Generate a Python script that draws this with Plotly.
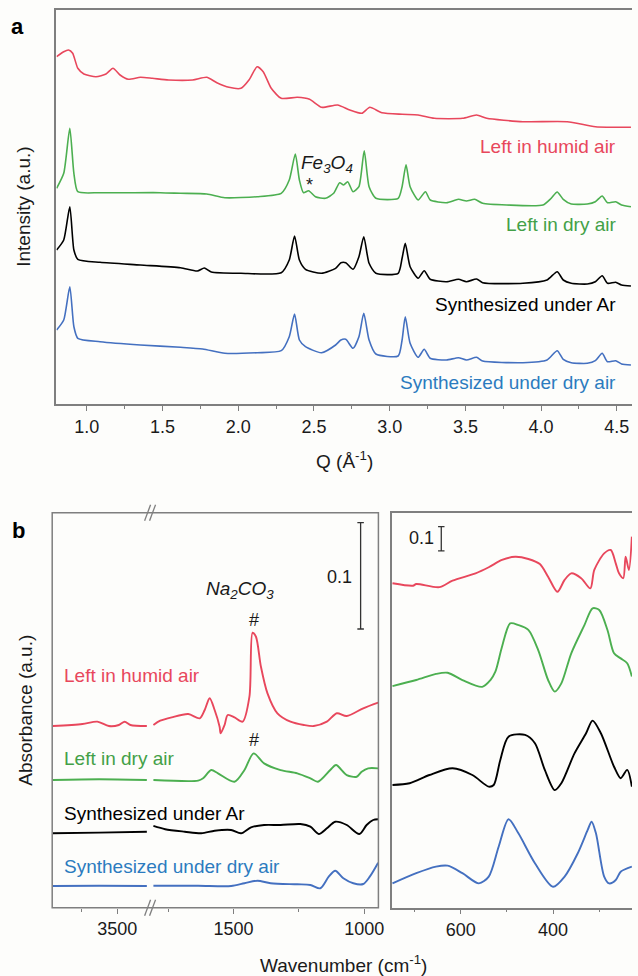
import plotly.graph_objects as go

W, H = 638, 976

# ---------------- Panel a : diffraction patterns ----------------
q_humid = [0.801, 0.848, 0.880, 0.907, 0.941, 0.981, 1.061, 1.127, 1.173, 1.220, 1.274, 1.354, 1.433, 1.540,
           1.699, 1.792, 1.859, 1.939, 2.018, 2.071, 2.125, 2.165, 2.218, 2.284, 2.390, 2.471, 2.550, 2.656,
           2.737, 2.816, 2.869, 2.949, 3.082, 3.188, 3.295, 3.481, 3.574, 3.641, 3.880, 4.172, 4.359, 4.593]
i_humid = [347.3, 352.3, 354, 350.7, 335.7, 330, 327.3, 330, 335.7, 329, 324.7, 326.7, 325.7, 324,
           324, 326.7, 321.3, 316.7, 315.7, 324, 337.3, 332.3, 315.7, 305.7, 306.7, 304.7, 296.7, 299,
           294, 290.7, 296.7, 291.3, 289.7, 289, 285.7, 285.7, 289, 285.7, 282.3, 282.3, 277.3, 276.7]

q_dry = [0.801, 0.848, 0.888, 0.915, 0.941, 1.088, 1.486, 1.619, 1.792, 1.912, 2.125, 2.284, 2.337, 2.377,
         2.404, 2.431, 2.465, 2.510, 2.576, 2.630, 2.670, 2.696, 2.723, 2.758, 2.797, 2.832, 2.864, 2.909,
         3.056, 3.082, 3.108, 3.135, 3.188, 3.236, 3.268, 3.375, 3.454, 3.507, 3.561, 3.614, 3.773, 4.012,
         4.066, 4.106, 4.146, 4.199, 4.305, 4.358, 4.403, 4.438, 4.492, 4.531, 4.593]
i_dry = [215.7, 230.7, 275.7, 230.7, 212.3, 211.3, 211.3, 210.7, 210, 206.3, 207.3, 210.7, 224, 250,
         224, 211.3, 213.3, 207.3, 205.7, 210.7, 221.3, 219, 222.3, 212.3, 217.3, 253.3, 217.3, 205.7,
         205.7, 217.3, 239.3, 217.3, 204, 212.3, 204, 201.3, 204.7, 203, 204.7, 200.7, 199, 199,
         205.7, 212, 204.7, 200, 200, 202.3, 208, 201.3, 202.3, 199, 197.3]

q_ar = [0.801, 0.848, 0.888, 0.915, 0.941, 1.088, 1.354, 1.619, 1.730, 1.776, 1.822, 2.018, 2.284, 2.337,
        2.372, 2.404, 2.444, 2.550, 2.643, 2.678, 2.710, 2.758, 2.797, 2.829, 2.864, 2.909, 3.056, 3.082,
        3.103, 3.135, 3.188, 3.228, 3.268, 3.375, 3.454, 3.507, 3.574, 3.614, 3.880, 4.039, 4.106, 4.146,
        4.199, 4.305, 4.358, 4.403, 4.438, 4.492, 4.531, 4.593]
i_ar = [154, 164, 197.3, 154, 144.7, 141.7, 139, 136.3, 133, 136, 132, 130.7, 131.3, 144,
        168, 144, 134.7, 130.7, 135.7, 141.3, 141.3, 134.7, 147.3, 167.3, 140.7, 130.7, 130.7, 145.7,
        160.7, 137.3, 125.7, 133.3, 124.7, 122.3, 124.7, 122.3, 125, 121.3, 120.7, 124, 132.3, 124,
        120.7, 120, 122.3, 128.3, 120.7, 121.7, 119, 118]

q_synair = [0.801, 0.848, 0.888, 0.915, 0.941, 1.088, 1.354, 1.619, 1.765, 1.912, 2.125, 2.284, 2.337, 2.372,
            2.404, 2.444, 2.550, 2.643, 2.678, 2.710, 2.758, 2.797, 2.829, 2.864, 2.909, 3.056, 3.082, 3.103,
            3.135, 3.188, 3.228, 3.268, 3.375, 3.454, 3.507, 3.574, 3.614, 3.880, 4.039, 4.106, 4.146, 4.199,
            4.305, 4.358, 4.403, 4.438, 4.492, 4.531, 4.593]
i_synair = [74, 84, 117.3, 77.3, 65.7, 62.3, 59, 56.7, 55, 50.7, 51.3, 53.3, 67.3, 90,
            64, 57.3, 51.3, 59, 64, 64.7, 55.7, 67.3, 90.7, 64, 50, 48, 64, 87.3,
            60.7, 46.7, 54.7, 45.7, 44, 46.3, 44, 46.7, 43, 41.3, 44, 53.3, 44.7, 41.3,
            40.7, 43.3, 50.7, 42.3, 43.3, 40, 39]

# ---------------- Panel b : IR spectra (mid-IR, broken axis) ----------------
wn_humid = [3951, 3743, 3639, 3558, 3488, 3447, 3407, 3292,
            1806, 1780, 1736, 1673, 1629, 1610, 1591, 1572, 1553, 1549, 1534, 1522, 1496, 1465, 1439, 1427,
            1414, 1395, 1370, 1332, 1282, 1231, 1193, 1143, 1105, 1067, 1004, 947]
a_humid = [0.1709, 0.1728, 0.1750, 0.1709, 0.1719, 0.1750, 0.1719, 0.1709,
           0.1719, 0.1759, 0.1791, 0.1822, 0.1782, 0.1860, 0.1970, 0.1860, 0.1703, 0.1641, 0.1719, 0.1813,
           0.1791, 0.1750, 0.1985, 0.2587, 0.2549, 0.2267, 0.2017, 0.1829, 0.1750, 0.1719, 0.1709, 0.1750,
           0.1829, 0.1803, 0.1876, 0.1929]

wn_dry = [3951, 3627, 3292,
          1806, 1635, 1616, 1585, 1559, 1496, 1458, 1423, 1383, 1320, 1256, 1206, 1177, 1130, 1108, 1067,
          1029, 1010, 985, 947]
a_dry = [0.1201, 0.1208, 0.1201,
         0.1201, 0.1195, 0.1217, 0.1295, 0.1264, 0.1185, 0.1295, 0.1452, 0.1358, 0.1295, 0.1264, 0.1217,
         0.1185, 0.1295, 0.1342, 0.1248, 0.1232, 0.1279, 0.1311, 0.1311]

wn_ar = [3951, 3627, 3292,
         1806, 1761, 1686, 1623, 1572, 1509, 1471, 1433, 1383, 1320, 1244, 1206, 1174, 1143, 1111, 1067,
         1019, 991, 966, 947]
a_ar = [0.0700, 0.0706, 0.0715,
        0.0769, 0.0738, 0.0715, 0.0700, 0.0724, 0.0731, 0.0700, 0.0756, 0.0778, 0.0778, 0.0787, 0.0762,
        0.0693, 0.0747, 0.0809, 0.0778, 0.0693, 0.0778, 0.0825, 0.0832]

wn_synair = [3951, 3627, 3292,
             1806, 1635, 1509, 1458, 1408, 1358, 1256, 1206, 1168, 1136, 1111, 1080, 1042, 1004, 979, 947]
a_synair = [0.0204, 0.0207, 0.0204,
            0.0207, 0.0207, 0.0204, 0.0230, 0.0254, 0.0230, 0.0220, 0.0214, 0.0183, 0.0292, 0.0348, 0.0277,
            0.0230, 0.0223, 0.0292, 0.0423]

# ---------------- Panel b : far-IR spectra ----------------
fwn_humid = [747.9, 703.5, 696.4, 646.5, 617.8, 567.9, 539.4, 510.6, 482.1, 453.6, 428.6, 410.8, 390.6,
             375, 360.6, 339.2, 319.3, 310.7, 289.3, 274.9, 264.2, 257.1, 247.9, 242.8, 235.7, 229.3]
fa_humid = [1.335, 1.325, 1.332, 1.319, 1.346, 1.376, 1.401, 1.431, 1.444, 1.435, 1.414, 1.362, 1.300,
            1.349, 1.376, 1.356, 1.314, 1.390, 1.458, 1.472, 1.417, 1.376, 1.356, 1.444, 1.390, 1.527]

fwn_dry = [747.9, 696.4, 653.6, 628.5, 596.4, 553.5, 535.7, 525, 510.6, 492.9, 475.1, 453.6, 432.2,
           410.8, 396.4, 382.1, 360.6, 332.1, 314.4, 300, 282.2, 267.9, 253.5, 239.4, 229.3]
fa_dry = [0.912, 0.937, 0.962, 0.967, 0.937, 0.909, 0.937, 0.971, 1.074, 1.170, 1.163, 1.143, 1.060,
          0.937, 0.889, 0.923, 1.047, 1.163, 1.232, 1.225, 1.143, 1.047, 1.026, 1.006, 0.951]

fwn_ar = [747.9, 710.8, 667.9, 617.8, 574.9, 539.4, 528.6, 514.3, 496.5, 460.7, 439.3, 417.9, 396.4,
          382.1, 353.6, 328.5, 314.4, 296.4, 267.9, 253.5, 239.4, 229.3]
fa_ar = [0.505, 0.512, 0.546, 0.574, 0.546, 0.498, 0.505, 0.608, 0.704, 0.711, 0.677, 0.567, 0.484,
         0.512, 0.635, 0.718, 0.770, 0.718, 0.580, 0.533, 0.567, 0.498]

fwn_synair = [747.9, 696.4, 653.6, 628.5, 596.4, 560.8, 539.4, 517.9, 496.5, 475.1, 439.3, 400.1, 375,
              346.5, 325, 316.5, 307.1, 289.3, 278.6, 264.2, 253.5, 229.3]
fa_synair = [0.100, 0.142, 0.169, 0.173, 0.142, 0.100, 0.128, 0.251, 0.364, 0.306, 0.183, 0.086, 0.128,
             0.224, 0.320, 0.354, 0.306, 0.128, 0.100, 0.114, 0.148, 0.169]

labels = ["Left in humid air", "Left in dry air", "Synthesized under Ar", "Synthesized under dry air"]
line_colors = ["#E8475C", "#4CAF50", "#000000", "#4470C0"]
text_colors = ["#E8475C", "#43A047", "#000000", "#2B7BBF"]

# label anchor values (data units)
lab_a_y = [257.3, 179, 100, 21.3]
lab_b_y = [0.218, 0.140, 0.0882, 0.0386]

FONT = "Arial, Liberation Sans, sans-serif"
AXC = "#7f7f7f"


def px(x):
    return x / W


def py(y):
    return 1 - y / H


fig = go.Figure()

# panel a traces
for q, i, c in zip([q_humid, q_dry, q_ar, q_synair], [i_humid, i_dry, i_ar, i_synair], line_colors):
    fig.add_trace(go.Scatter(x=q, y=i, mode="lines", line=dict(color=c, width=1.6, shape="spline", smoothing=0.6),
                             xaxis="x", yaxis="y", showlegend=False, hoverinfo="skip"))

# panel b mid-IR traces (split at the axis break)
for wn, a, c in zip([wn_humid, wn_dry, wn_ar, wn_synair], [a_humid, a_dry, a_ar, a_synair], line_colors):
    hi = [(w, v) for w, v in zip(wn, a) if w > 3000]
    lo = [(w, v) for w, v in zip(wn, a) if w <= 3000]
    fig.add_trace(go.Scatter(x=[p[0] for p in hi], y=[p[1] for p in hi], mode="lines",
                             line=dict(color=c, width=1.9, shape="spline", smoothing=0.8), xaxis="x2", yaxis="y2",
                             showlegend=False, hoverinfo="skip"))
    fig.add_trace(go.Scatter(x=[p[0] for p in lo], y=[p[1] for p in lo], mode="lines",
                             line=dict(color=c, width=1.9, shape="spline", smoothing=0.8), xaxis="x3", yaxis="y2",
                             showlegend=False, hoverinfo="skip"))

# panel b far-IR traces
for wn, a, c in zip([fwn_humid, fwn_dry, fwn_ar, fwn_synair], [fa_humid, fa_dry, fa_ar, fa_synair], line_colors):
    fig.add_trace(go.Scatter(x=wn, y=a, mode="lines", line=dict(color=c, width=1.9, shape="spline", smoothing=0.8),
                             xaxis="x4", yaxis="y3", showlegend=False, hoverinfo="skip"))

tickfont = dict(family=FONT, size=18, color="#1a1a1a")
common_x = dict(showgrid=False, zeroline=False, ticks="outside", ticklen=5, tickwidth=1.3,
                tickcolor=AXC, tickfont=tickfont, linecolor=AXC, linewidth=1.5)

yA_bot, yA_top = 404, 10
yB_top, yB_bot = 512.7, 907.7

fig.update_layout(
    width=W, height=H, margin=dict(l=0, r=0, t=0, b=0),
    paper_bgcolor="#FDFDFB", plot_bgcolor="rgba(0,0,0,0)",
    font=dict(family=FONT, size=18, color="#1a1a1a"),
    xaxis=dict(domain=[px(57), 1.0], range=[0.8, 4.6], anchor="y", showline=True, mirror=True,
               tickvals=[1.0, 1.5, 2.0, 2.5, 3.0, 3.5, 4.0, 4.5], ticktext=["1.0", "1.5", "2.0", "2.5", "3.0", "3.5", "4.0", "4.5"],
               minor=dict(tickvals=[1.25, 1.75, 2.25, 2.75, 3.25, 3.75, 4.25], ticklen=3, tickcolor=AXC, ticks="outside"),
               ticklabelstandoff=1, **common_x),
    yaxis=dict(domain=[py(yA_bot), py(yA_top)], range=[0, 394], anchor="x", showline=True, mirror=False,
               linecolor=AXC, linewidth=1.5, showticklabels=False, ticks="", showgrid=False, zeroline=False),
    xaxis2=dict(domain=[px(52.7), px(151.7)], range=[3955, 3268], anchor="y2", showline=False,
                tickvals=[3500], ticktext=["3500"],
                minor=dict(tickvals=[3750], ticklen=3, tickcolor=AXC, ticks="outside"),
                ticklabelstandoff=0, **common_x),
    xaxis3=dict(domain=[px(151.7), px(382)], range=[1818, 946], anchor="y2", showline=False,
                tickvals=[1500, 1000], ticktext=["1500", "1000"],
                minor=dict(tickvals=[1750, 1250], ticklen=3, tickcolor=AXC, ticks="outside"),
                ticklabelstandoff=0, **common_x),
    yaxis2=dict(domain=[py(yB_bot), py(yB_top)], range=[0, 0.3716], anchor="x2", showline=False,
                showticklabels=False, ticks="", showgrid=False, zeroline=False),
    xaxis4=dict(domain=[px(395.7), 1.0], range=[749, 229], anchor="y3", showline=True, mirror=True,
                tickvals=[600, 400], ticktext=["600", "400"],
                minor=dict(tickvals=[700, 500, 300], ticklen=3, tickcolor=AXC, ticks="outside"),
                ticklabelstandoff=0, **common_x),
    yaxis3=dict(domain=[py(yB_bot), py(yB_top)], range=[0, 1.6255], anchor="x4", showline=True, mirror=False,
                linecolor=AXC, linewidth=1.5, showticklabels=False, ticks="", showgrid=False, zeroline=False),
)

shapes = []
# frame of the broken-axis panel
shapes.append(dict(type="rect", xref="paper", yref="paper", x0=px(52.7), x1=px(382), y0=py(yB_bot), y1=py(yB_top),
                   line=dict(color=AXC, width=1.5), fillcolor="rgba(0,0,0,0)", layer="above"))
# break marks "//"
for yb in (yB_top, yB_bot):
    for dx in (0, 5):
        shapes.append(dict(type="line", xref="paper", yref="paper",
                           x0=px(146 + dx), y0=py(yb + 8), x1=px(152 + dx), y1=py(yb - 8),
                           line=dict(color=AXC, width=1.3)))
# scale bars (0.1 absorbance)
shapes.append(dict(type="line", xref="x3", yref="y2", x0=1014, x1=1014, y0=0.2622, y1=0.3622, line=dict(color="#333", width=1.3)))
for yy in (0.2622, 0.3622):
    shapes.append(dict(type="line", xref="x3", yref="y2", x0=1026.5, x1=1001.5, y0=yy, y1=yy, line=dict(color="#333", width=1.3)))
shapes.append(dict(type="line", xref="x4", yref="y3", x0=642.2, x1=642.2, y0=1.468, y1=1.568, line=dict(color="#333", width=1.3)))
for yy in (1.468, 1.568):
    shapes.append(dict(type="line", xref="x4", yref="y3", x0=649.2, x1=635.2, y0=yy, y1=yy, line=dict(color="#333", width=1.3)))
fig.update_layout(shapes=shapes)

ann = []


def pann(text, x, y, size, angle=0, bold_color="#1a1a1a"):
    return dict(text=text, xref="paper", yref="paper", x=px(x), y=py(y), xanchor="center", yanchor="middle",
                textangle=angle, showarrow=False, font=dict(family=FONT, size=size, color=bold_color))


# panel letters
ann.append(pann("<b>a</b>", 18, 27, 22, bold_color="#000"))
ann.append(pann("<b>b</b>", 19, 530, 22, bold_color="#000"))
# axis titles
ann.append(pann("Intensity (a.u.)", 23, 207, 19, angle=-90))
ann.append(pann("Absorbance (a.u.)", 25, 710, 19, angle=-90))
ann.append(pann("Q (Å<sup>-1</sup>)", 348, 460, 19))
ann.append(pann("Wavenumber (cm<sup>-1</sup>)", 347, 964, 19))
# series labels panel a (right aligned)
for t, yv, c in zip(labels, lab_a_y, text_colors):
    ann.append(dict(text=t, xref="x", yref="y", x=4.505, y=yv, xanchor="right", yanchor="middle", showarrow=False,
                    font=dict(family=FONT, size=19, color=c)))
# series labels panel b (left aligned)
for t, yv, c in zip(labels, lab_b_y, text_colors):
    ann.append(dict(text=t, xref="x2", yref="y2", x=3884, y=yv, xanchor="left", yanchor="middle", showarrow=False,
                    font=dict(family=FONT, size=19, color=c)))
# phase markers
ann.append(dict(text="<i>Fe<sub>3</sub>O<sub>4</sub></i>", xref="x", yref="y", x=2.586, y=240, showarrow=False,
                font=dict(family=FONT, size=19, color="#1a1a1a")))
ann.append(dict(text="*", xref="x", yref="y", x=2.471, y=219, showarrow=False,
                font=dict(family=FONT, size=18, color="#1a1a1a")))
ann.append(dict(text="<i>Na<sub>2</sub>CO<sub>3</sub></i>", xref="x3", yref="y2", x=1474, y=0.2989, showarrow=False,
                font=dict(family=FONT, size=19, color="#1a1a1a")))
for yv in (0.2706, 0.1577):
    ann.append(dict(text="#", xref="x3", yref="y2", x=1420, y=yv, showarrow=False,
                    font=dict(family=FONT, size=18, color="#1a1a1a")))
# scale bar labels
ann.append(dict(text="0.1", xref="x3", yref="y2", x=1095.6, y=0.3114, showarrow=False,
                font=dict(family=FONT, size=18, color="#1a1a1a")))
ann.append(dict(text="0.1", xref="x4", yref="y3", x=684.4, y=1.520, showarrow=False,
                font=dict(family=FONT, size=18, color="#1a1a1a")))
fig.update_layout(annotations=ann)

fig.write_html("out.html", config={"displayModeBar": False},
               post_script="document.body.style.margin='0px';")
